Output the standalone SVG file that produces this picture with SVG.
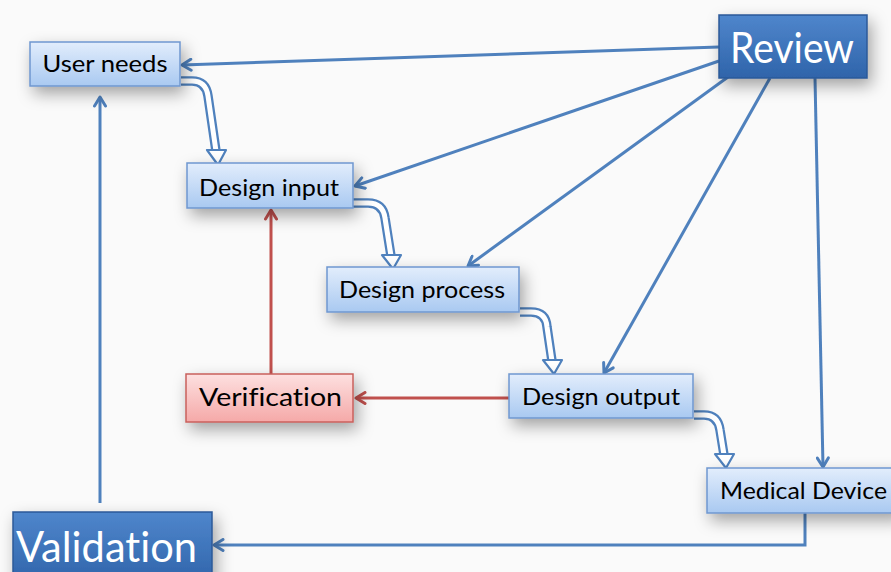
<svg xmlns="http://www.w3.org/2000/svg" width="891" height="572" viewBox="0 0 891 572">
<defs>
<linearGradient id="gBlue" x1="0" y1="0" x2="0" y2="1"><stop offset="0" stop-color="#e2edfc"/><stop offset="1" stop-color="#a9c9f1"/></linearGradient>
<linearGradient id="gDark" x1="0" y1="0" x2="0" y2="1"><stop offset="0" stop-color="#4f86cc"/><stop offset="1" stop-color="#2f64aa"/></linearGradient>
<linearGradient id="gRed" x1="0" y1="0" x2="0" y2="1"><stop offset="0" stop-color="#fde0e0"/><stop offset="1" stop-color="#f5a9a8"/></linearGradient>
<filter id="sh" x="-30%" y="-40%" width="170%" height="200%"><feDropShadow dx="4" dy="7" stdDeviation="8" flood-color="#000" flood-opacity="0.35"/></filter>
<marker id="aBlue" viewBox="0 0 14 14" refX="12" refY="7" markerWidth="14" markerHeight="14" markerUnits="userSpaceOnUse" orient="auto"><path d="M3,1.5 L12,7 L3,12.5" fill="none" stroke="#4f81bd" stroke-width="3" stroke-linecap="round" stroke-linejoin="round"/></marker>
<marker id="aRed" viewBox="0 0 14 14" refX="12" refY="7" markerWidth="14" markerHeight="14" markerUnits="userSpaceOnUse" orient="auto"><path d="M3,1.5 L12,7 L3,12.5" fill="none" stroke="#c0504d" stroke-width="3" stroke-linecap="round" stroke-linejoin="round"/></marker>
</defs>
<style>
.box{fill:url(#gBlue);stroke:#6f97cf;stroke-width:1.5;filter:url(#sh)}
.dark{fill:url(#gDark);stroke:#2b5a98;stroke-width:1.5;filter:url(#sh)}
.red{fill:url(#gRed);stroke:#c8605c;stroke-width:1.5;filter:url(#sh)}
.t{font-family:Lato,"Open Sans","Liberation Sans",sans-serif;font-size:23px;fill:#000;text-anchor:middle;font-variant-ligatures:none}
.big{font-family:Lato,"Open Sans","Liberation Sans",sans-serif;font-size:42px;fill:#fff;text-anchor:middle;font-variant-ligatures:none}
.c{fill:none;stroke:#4f81bd;stroke-width:3;marker-end:url(#aBlue)}
.cr{fill:none;stroke:#c0504d;stroke-width:3;marker-end:url(#aRed)}
.ho{fill:none;stroke:#4f81bd;stroke-width:9.5;stroke-linejoin:round}
.hi{fill:none;stroke:#fff;stroke-width:5;stroke-linejoin:round}
.hh{fill:#fff;stroke:#4f81bd;stroke-width:2.2;stroke-linejoin:round}
</style>
<rect width="891" height="572" fill="#fafafa"/>

<g id="connectors">
<path class="c" d="M719,47 L182,65"/>
<path class="c" d="M719,61 L355,186"/>
<path class="c" d="M728,77 L468,266"/>
<path class="c" d="M770,78 L604,373"/>
<path class="c" d="M815,78 L823,467"/>
<path class="c" d="M805,513 V545 H214"/>
<path class="c" d="M100,503 V97"/>
<path class="cr" d="M271,374 V210"/>
<path class="cr" d="M509,398 H356"/>
<g id="hollow1"><path class="ho" d="M181,81 L192,81 Q206,81 208,96 L216,151"/><path class="hi" d="M181,81 L192,81 Q206,81 208,96 L216,151"/><polygon class="hh" points="207,150 226,150 218,165"/></g>
<g id="hollow2"><path class="ho" d="M353,203 L368,203 Q383,203 385,218 L391,256"/><path class="hi" d="M353,203 L368,203 Q383,203 385,218 L391,256"/><polygon class="hh" points="382,255 401,255 393,269"/></g>
<g id="hollow3"><path class="ho" d="M520,312 L531,312 Q546,312 547,327 L552,361"/><path class="hi" d="M520,312 L531,312 Q546,312 547,327 L552,361"/><polygon class="hh" points="543,360 562,360 554,374"/></g>
<g id="hollow4"><path class="ho" d="M694,415 L704,415 Q718,415 720,430 L724,455"/><path class="hi" d="M694,415 L704,415 Q718,415 720,430 L724,455"/><polygon class="hh" points="715,454 734,454 726,468"/></g>
</g>

<g id="user-needs"><rect class="box" x="30" y="42" width="150" height="44"/><text class="t" x="105" y="72" textLength="125" lengthAdjust="spacingAndGlyphs">User needs</text></g>
<g id="design-input"><rect class="box" x="187" y="163" width="166" height="45"/><text class="t" x="269" y="196" textLength="140" lengthAdjust="spacingAndGlyphs">Design input</text></g>
<g id="design-process"><rect class="box" x="327" y="267" width="192" height="45"/><text class="t" x="422" y="298" textLength="166" lengthAdjust="spacingAndGlyphs">Design process</text></g>
<g id="design-output"><rect class="box" x="509" y="374" width="184" height="44"/><text class="t" x="601" y="405" textLength="158" lengthAdjust="spacingAndGlyphs">Design output</text></g>
<g id="verification"><rect class="red" x="186" y="374" width="167" height="48"/><text class="t" x="270.5" y="406" style="font-size:25px" textLength="143" lengthAdjust="spacingAndGlyphs">Verification</text></g>
<g id="medical-device"><rect class="box" x="707" y="468" width="192" height="45"/><text class="t" x="803.5" y="499" textLength="167" lengthAdjust="spacingAndGlyphs">Medical Device</text></g>
<g id="review"><rect class="dark" x="719" y="15" width="148" height="63"/><text class="big" x="792" y="63" textLength="124" lengthAdjust="spacingAndGlyphs">Review</text></g>
<g id="validation"><rect class="dark" x="13" y="512" width="199" height="72"/><text class="big" x="106.5" y="562" textLength="181" lengthAdjust="spacingAndGlyphs">Validation</text></g>
</svg>
